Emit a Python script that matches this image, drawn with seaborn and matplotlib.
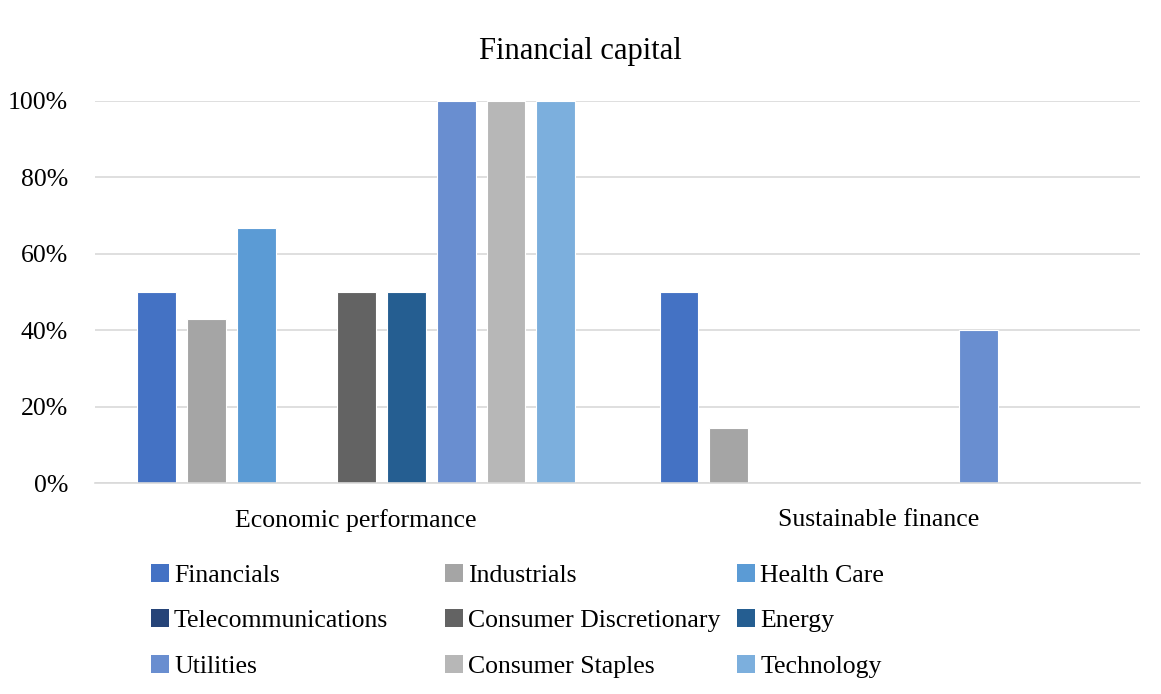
import matplotlib
matplotlib.use("Agg")
import matplotlib.pyplot as plt
import seaborn as sns
import pandas as pd
from matplotlib.patches import Patch
from matplotlib.ticker import PercentFormatter

# Topics on the x axis
categories = ["Economic performance", "Sustainable finance"]

# Sectors (hue) and their share of companies reporting each topic, in %
sectors = ["Financials", "Industrials", "Health Care", "Telecommunications",
           "Consumer Discretionary", "Energy", "Utilities", "Consumer Staples",
           "Technology"]
economic_performance = [50.0, 42.9, 66.7, 0.0, 50.0, 50.0, 100.0, 100.0, 100.0]
sustainable_finance = [50.0, 14.3, 0.0, 0.0, 0.0, 0.0, 40.0, 0.0, 0.0]

colors = ["#4472C4", "#A5A5A5", "#5B9BD5", "#264478", "#636363",
          "#255E91", "#698ED0", "#B7B7B7", "#7CAFDD"]

yticks = [0, 20, 40, 60, 80, 100]

rows = []
for sector, v1, v2 in zip(sectors, economic_performance, sustainable_finance):
    rows.append({"topic": categories[0], "sector": sector, "value": v1})
    rows.append({"topic": categories[1], "sector": sector, "value": v2})
df = pd.DataFrame(rows)

sns.set_theme(style="white")
plt.rcParams["font.family"] = ["Liberation Serif", "DejaVu Serif"]
plt.rcParams["text.color"] = "black"

FS = 18.5

fig = plt.figure(figsize=(11.61, 6.94), dpi=100)
ax = fig.add_axes([0.0818, 0.304, 0.9001, 0.5505])

sns.barplot(data=df, x="topic", y="value", hue="sector",
            order=categories, hue_order=sectors, palette=colors,
            saturation=1, width=0.86, gap=0.22, edgecolor="white",
            linewidth=0.8, errorbar=None, legend=False, ax=ax)

ax.set_xlim(-0.5, 1.5)
ax.set_ylim(0, 100)
ax.set_yticks(yticks)
ax.yaxis.set_major_formatter(PercentFormatter(decimals=0))
ax.set_axisbelow(True)
ax.grid(axis="y", color="#D9D9D9", linewidth=1.2)
for side in ["top", "right", "left"]:
    ax.spines[side].set_visible(False)
ax.spines["bottom"].set_color("#D9D9D9")
ax.spines["bottom"].set_linewidth(1.2)
ax.tick_params(axis="both", length=0, labelsize=FS, colors="black")
ax.tick_params(axis="y", pad=19.5)
ax.tick_params(axis="x", pad=19)
ax.set_xlabel("")
ax.set_ylabel("")

fig.text(0.5, 0.926, "Financial capital", ha="center", va="center",
         fontsize=22, color="black")

# Legend laid out in three columns, filled row by row
col_x = [0.130, 0.383, 0.635]
for c in range(3):
    idx = [c, c + 3, c + 6]
    handles = [Patch(facecolor=colors[i], edgecolor="none") for i in idx]
    labels = [sectors[i] for i in idx]
    leg = fig.legend(handles, labels, loc="upper left",
                     bbox_to_anchor=(col_x[c], 0.188), frameon=False,
                     fontsize=FS, handlelength=0.7, handleheight=0.7,
                     handletextpad=0.2, labelspacing=0.88, borderaxespad=0,
                     borderpad=0)
    for t in leg.get_texts():
        t.set_color("black")

fig.savefig("out.png", dpi=100, facecolor="white")
